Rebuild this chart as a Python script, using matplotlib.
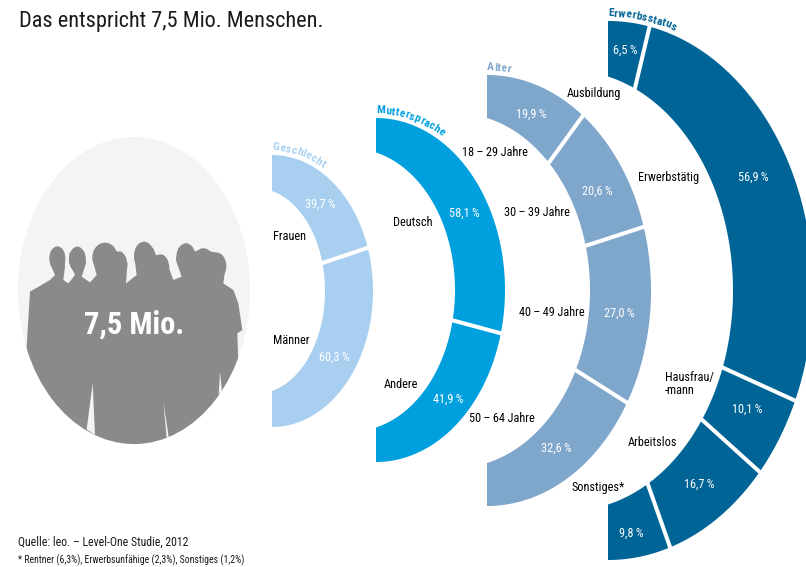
#!/usr/bin/env python3
# -*- coding: utf-8 -*-
import numpy as np
import matplotlib
matplotlib.use('Agg')
import matplotlib.pyplot as plt
from matplotlib.patches import Ellipse, Polygon

plt.rcParams['font.family'] = ['Roboto Condensed', 'Lato', 'DejaVu Sans']

# data
geschlecht_labels = ['Frauen', 'Männer']
geschlecht_values = [39.7, 60.3]
mutter_labels = ['Deutsch', 'Andere']
mutter_values = [58.1, 41.9]
alter_labels = ['18\u2009–\u200929 Jahre', '30\u2009–\u200939 Jahre', '40\u2009–\u200949 Jahre', '50\u2009–\u200964 Jahre']
alter_values = [19.9, 20.6, 27.0, 32.6]
status_labels = ['Ausbildung', 'Erwerbstätig', 'Hausfrau/\n-mann', 'Arbeitslos', 'Sonstiges*']
status_values = [6.5, 56.9, 10.1, 16.7, 9.8]

# layout, in pixels of the picture: x0, cy, Rx, Ry, rx, ry
rings = [
    ('Geschlecht', '#A9CFF0', geschlecht_values, geschlecht_labels, (272, 291, 101, 136, 53, 100),
     [(320, 204), (334, 357)], [(289, 237), (291, 341)]),
    ('Muttersprache', '#00A0DF', mutter_values, mutter_labels, (376, 290, 129, 172, 79, 137.5),
     [(464, 213), (448, 399)], [(413, 222), (401, 385)]),
    ('Alter', '#7FA6CB', alter_values, alter_labels, (487, 290.5, 164, 215.5, 103, 172.5),
     [(531, 114), (597, 191), (619, 313), (556, 448)], [(495, 152), (537, 212), (552, 313), (502, 419)]),
    ('Erwerbsstatus', '#006496', status_values, status_labels, (608, 290.5, 205, 269.5, 125, 214),
     [(625, 50), (753, 177), (747, 409), (699, 484), (631, 533)],
     [(594, 93), (669, 177), (665, 384), (652, 442), (598, 487)]),
]
INNER_CUT = 13.5  # inner edge is a flatter arc cut off at the left

fig = plt.figure(figsize=(8.06, 5.67), dpi=100)
ax = fig.add_axes([0, 0, 1, 1])
ax.set_xlim(0, 806)
ax.set_ylim(567, 0)
ax.axis('off')


def outer_pt(theta, g):
    x0, cy, Rx, Ry, rx, ry = g
    t = np.radians(theta)
    return x0 + Rx * np.sin(t), cy - Ry * np.cos(t)


def inner_pt(theta, g):
    x0, cy, Rx, Ry, rx, ry = g
    c = np.radians(INNER_CUT)
    a = rx / (1 - np.sin(c))
    b = ry / np.cos(c)
    t = np.radians(INNER_CUT + (180 - 2 * INNER_CUT) * np.asarray(theta) / 180)
    return x0 - a * np.sin(c) + a * np.sin(t), cy - b * np.cos(t)


def curved_text(s, g, color, size, start=0.0, lift=2.5):
    # walk along the outer edge, one letter at a time
    x0, cy, Rx, Ry, rx, ry = g
    rend = fig.canvas.get_renderer()
    th = start
    for ch in s:
        t = ax.text(0, 0, ch, fontsize=size, color=color, fontweight='bold', ha='center', va='bottom',
                    rotation_mode='anchor')
        w = t.get_window_extent(rend).width + 0.1
        dx = Rx * np.cos(np.radians(th)) * np.pi / 180
        dy = Ry * np.sin(np.radians(th)) * np.pi / 180
        step = np.hypot(dx, dy)
        mid = th + w / 2 / step
        px, py = outer_pt(mid, g)
        ang = np.arctan2(Ry * np.sin(np.radians(mid)), Rx * np.cos(np.radians(mid)))
        t.set_position((px + np.sin(ang) * lift, py - np.cos(ang) * lift))
        t.set_rotation(-np.degrees(ang))
        th += w / step


for name, color, values, labels, g, val_pos, lab_pos in rings:
    bounds = np.concatenate([[0], np.cumsum(values)]) * 180 / sum(values)
    for i, v in enumerate(values):
        th = np.linspace(bounds[i], bounds[i + 1], 80)
        ox, oy = outer_pt(th, g)
        ix, iy = inner_pt(th, g)
        ax.fill(np.r_[ox, ix[::-1]], np.r_[oy, iy[::-1]], color=color, lw=0)
        if i > 0:
            a = inner_pt(bounds[i], g)
            b = outer_pt(bounds[i], g)
            ax.plot([a[0] - (b[0] - a[0]) * .05, b[0] + (b[0] - a[0]) * .05],
                    [a[1] - (b[1] - a[1]) * .05, b[1] + (b[1] - a[1]) * .05],
                    color='white', lw=2.9, solid_capstyle='butt')
        ax.text(val_pos[i][0], val_pos[i][1], ('%.1f\u2009%%' % v).replace('.', ','), color='white',
                fontsize=8.8, ha='center', va='center')
        ha = 'left' if '\n' in labels[i] else 'center'
        ax.text(lab_pos[i][0], lab_pos[i][1], labels[i], color='black', fontsize=8.8,
                ha=ha, va='center', linespacing=1.0)
    curved_text(name, g, color, 8.2)

# circle with the people
bg = Ellipse((134, 290.5), 232, 307, color='#F4F4F4', lw=0)
ax.add_patch(bg)
outline = [(80, 680), (90, 515), (150, 480), (165, 465), (150, 430), (150, 400), (172, 380), (193, 400), (195, 440),
           (190, 480), (205, 490), (225, 465), (208, 430), (208, 400), (232, 380), (255, 400), (258, 430), (245, 470),
           (270, 487), (290, 465), (278, 420), (285, 385), (315, 368), (345, 395), (365, 395), (382, 430), (378, 490),
           (410, 465), (403, 410), (415, 375), (435, 365), (460, 385), (468, 405), (490, 405), (505, 440), (520, 480),
           (545, 470), (528, 420), (535, 385), (560, 370), (585, 395), (605, 385), (635, 395), (660, 400), (678, 430),
           (670, 490), (700, 510), (715, 550), (727, 630), (712, 640), (715, 730), (700, 1000), (50, 1000)]
crowd = Polygon([(x / 3, 120 + y / 3) for x, y in outline], color='#8A8A8A', lw=0)
ax.add_patch(crowd)
crowd.set_clip_path(bg)
heads = [(172, 415, 24, 36), (232, 418, 25, 38), (315, 412, 38, 44), (358, 435, 24, 40), (432, 408, 30, 43),
         (482, 445, 26, 42), (558, 412, 29, 42), (612, 425, 28, 40), (650, 438, 29, 40)]
for hx, hy, hw, hh in heads:
    ax.add_patch(Ellipse((hx / 3, 120 + hy / 3), 2 * hw / 3, 2 * hh / 3, color='#8A8A8A', lw=0))
for gap in ([(278, 790), (260, 928), (285, 945)], [(490, 845), (500, 955), (506, 950)], [(660, 755), (656, 825), (666, 815)]):
    p = Polygon([(x / 3, 120 + y / 3) for x, y in gap], color='#F4F4F4', lw=0)
    ax.add_patch(p)
    p.set_clip_path(bg)
ax.text(134, 325, '7,5 Mio.', color='white', fontsize=22, fontweight='bold', ha='center', va='center')

ax.text(19, 21, 'Das entspricht 7,5 Mio. Menschen.', fontsize=16, color='#1a1a1a', va='center')
ax.text(18, 542, 'Quelle: leo. – Level-One Studie, 2012', fontsize=8.5, color='#1a1a1a', va='center')
ax.text(18, 560, '* Rentner (6,3%), Erwerbsunfähige (2,3%), Sonstiges (1,2%)', fontsize=7, color='#1a1a1a', va='center')

fig.savefig('out.png', dpi=100)
